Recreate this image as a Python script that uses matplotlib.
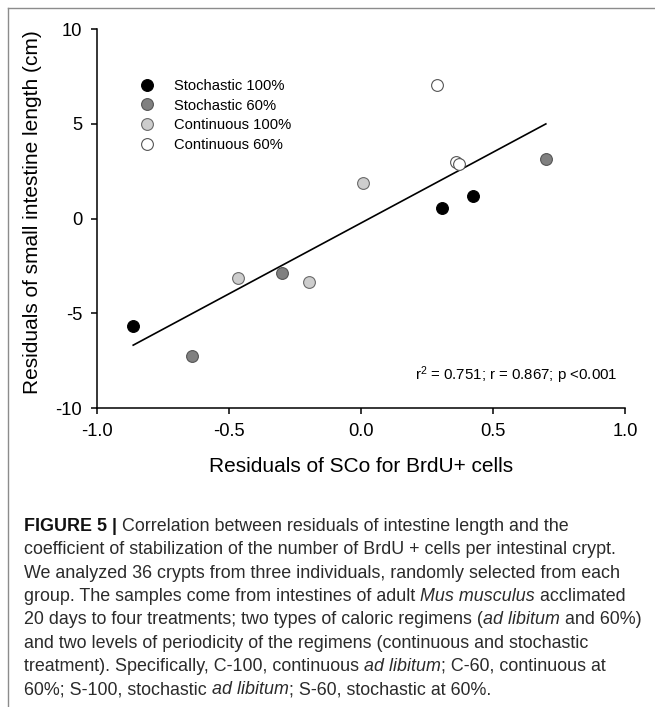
import matplotlib
matplotlib.use("Agg")
import matplotlib.pyplot as plt
import numpy as np
from matplotlib.lines import Line2D

plt.rcParams["font.family"] = ["Liberation Sans", "DejaVu Sans"]
plt.rcParams["mathtext.fontset"] = "custom"
plt.rcParams["mathtext.rm"] = "Liberation Sans"
plt.rcParams["mathtext.it"] = "Liberation Sans:italic"

# Residuals per treatment group (x: SCo residual, y: intestine length residual, cm)
groups = ["Stochastic 100%", "Stochastic 60%", "Continuous 100%", "Continuous 60%"]
x_s100 = [-0.864, 0.304, 0.422]
y_s100 = [-5.67, 0.56, 1.20]
x_s60 = [-0.642, -0.302, 0.699]
y_s60 = [-7.24, -2.89, 3.15]
x_c100 = [-0.467, -0.198, 0.006]
y_c100 = [-3.15, -3.35, 1.87]
x_c60 = [0.285, 0.359, 0.370]
y_c60 = [7.02, 2.96, 2.90]

# Least-squares line
fit_slope = 7.47
fit_intercept = -0.23
stats_text = r"r$^2$ = 0.751; r = 0.867; p <0.001"

xticks = [-1.0, -0.5, 0.0, 0.5, 1.0]
xtick_labels = ["-1.0", "-0.5", "0.0", "0.5", "1.0"]
yticks = [-10, -5, 0, 5, 10]
ytick_labels = ["-10", "-5", "0", "5", "10"]

W, H = 655, 707
fig = plt.figure(figsize=(W / 100, H / 100), dpi=100)
fig.patch.set_facecolor("white")

ax = fig.add_axes([97.3 / W, 1 - 408 / H, (625.3 - 97.3) / W, (408 - 29) / H])
ax.set_xlim(-1, 1)
ax.set_ylim(-10, 10)

styles = [
    dict(c="#000000", edgecolors="#000000"),
    dict(c="#808080", edgecolors="#555555"),
    dict(c="#cdcdcd", edgecolors="#6a6a6a"),
    dict(c="#ffffff", edgecolors="#555555"),
]
series = [(x_s100, y_s100), (x_s60, y_s60), (x_c100, y_c100), (x_c60, y_c60)]

all_x = np.concatenate([np.asarray(s[0]) for s in series])
xx = np.array([all_x.min(), all_x.max()])
ax.plot(xx, fit_slope * xx + fit_intercept, color="black", lw=1.2, zorder=2)

handles = []
for (xs, ys), st, name in zip(series, styles, groups):
    ax.scatter(xs, ys, s=72, linewidths=0.8, zorder=3, **st)
    handles.append(Line2D([], [], ls="none", marker="o", markersize=8.5,
                          markerfacecolor=st["c"], markeredgecolor=st["edgecolors"],
                          markeredgewidth=0.8, label=name))

ax.legend(handles=handles, loc="upper left", bbox_to_anchor=(0.081, 0.868),
          frameon=False, fontsize=10.6, handlelength=1.0, handletextpad=1.3,
          labelspacing=0.38, borderpad=0, borderaxespad=0)

ax.text(0.985, 0.087, stats_text, transform=ax.transAxes, ha="right", va="center",
        fontsize=10.8)

for side in ["top", "right"]:
    ax.spines[side].set_visible(False)
for side in ["left", "bottom"]:
    ax.spines[side].set_linewidth(1.1)
ax.set_xticks(xticks)
ax.set_xticklabels(xtick_labels)
ax.set_yticks(yticks)
ax.set_yticklabels(ytick_labels)
ax.tick_params(direction="out", length=4, width=1.1, labelsize=13.2, pad=7)
ax.set_xlabel("Residuals of SCo for BrdU+ cells", fontsize=15, labelpad=12)
ax.set_ylabel("Residuals of small intestine length (cm)", fontsize=15)
ax.yaxis.set_label_coords(-0.105, 0.518)

# Caption frame lines (left and top)
frame_color = "#8c8c8c"
fig.add_artist(Line2D([7.5 / W, 7.5 / W], [0, 1 - 7.5 / H], transform=fig.transFigure,
                      color=frame_color, lw=1.0))
fig.add_artist(Line2D([7.5 / W, 1], [1 - 7.5 / H, 1 - 7.5 / H], transform=fig.transFigure,
                      color=frame_color, lw=1.0))

# Caption, drawn segment by segment so bold/italic runs can be mixed in a line
caption = [
    [("FIGURE 5 |", "bold"), (" Correlation between residuals of intestine length and the", "normal")],
    [("coefficient of stabilization of the number of BrdU + cells per intestinal crypt.", "normal")],
    [("We analyzed 36 crypts from three individuals, randomly selected from each", "normal")],
    [("group. The samples come from intestines of adult ", "normal"), ("Mus musculus", "italic"),
     (" acclimated", "normal")],
    [("20 days to four treatments; two types of caloric regimens (", "normal"),
     ("ad libitum", "italic"), (" and 60%)", "normal")],
    [("and two levels of periodicity of the regimens (continuous and stochastic", "normal")],
    [("treatment). Specifically, C-100, continuous ", "normal"), ("ad libitum", "italic"),
     ("; C-60, continuous at", "normal")],
    [("60%; S-100, stochastic ", "normal"), ("ad libitum", "italic"),
     ("; S-60, stochastic at 60%.", "normal")],
]
cap_size = 12.9
cap_color = "#2b2b2b"
fig.canvas.draw()
renderer = fig.canvas.get_renderer()


def seg_width(txt, style):
    # width including any leading/trailing spaces, measured with bracketing glyphs
    kw = dict(fontsize=cap_size,
              fontweight="bold" if style == "bold" else "normal",
              fontstyle="italic" if style == "italic" else "normal")
    a = fig.text(0, 0, "|" + txt + "|", **kw)
    b = fig.text(0, 0, "||", **kw)
    w = a.get_window_extent(renderer).width - b.get_window_extent(renderer).width
    a.remove()
    b.remove()
    return w


base0 = 531.0
step = 23.3
for i, line in enumerate(caption):
    xpx = 24.0
    ypx = base0 + i * step
    for txt, style in line:
        fig.text(xpx / W, 1 - ypx / H, txt, fontsize=cap_size, va="baseline", ha="left",
                 color="#111111" if style == "bold" else cap_color,
                 fontweight="bold" if style == "bold" else "normal",
                 fontstyle="italic" if style == "italic" else "normal")
        xpx += seg_width(txt, style)

fig.savefig("out.png", dpi=100)
